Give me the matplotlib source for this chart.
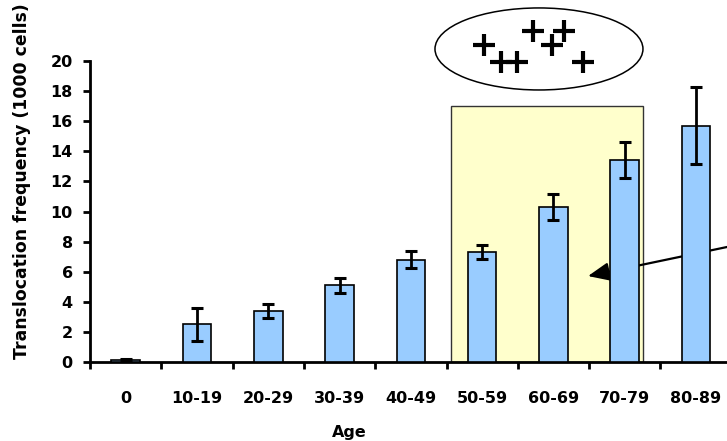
import matplotlib
matplotlib.use("Agg")
import matplotlib.pyplot as plt
from matplotlib.patches import Rectangle, Ellipse

# Translocation frequency per 1000 cells by age group
age_groups = ["0", "10-19", "20-29", "30-39", "40-49", "50-59", "60-69", "70-79", "80-89"]
frequency = [0.1, 2.5, 3.4, 5.1, 6.8, 7.3, 10.3, 13.4, 15.7]
errors = [0.1, 1.1, 0.45, 0.5, 0.55, 0.45, 0.85, 1.2, 2.55]
y_ticks = [0, 2, 4, 6, 8, 10, 12, 14, 16, 18, 20]

# highlighted age window and its ceiling
highlight_x = (4.563, 7.256)
highlight_top = 17.0

# "+" symbols in the oval above the highlighted window
plus_x = [5.030, 5.264, 5.485, 5.717, 5.975, 6.148, 6.419]
plus_y = [21.06, 19.95, 19.95, 22.01, 21.06, 22.01, 19.95]

plt.rcParams["font.family"] = ["DejaVu Sans"]
plt.rcParams["font.weight"] = "bold"

fig = plt.figure(figsize=(7.27, 4.41), dpi=100)
W, H = 727, 441
ax = fig.add_axes([90 / W, (H - 362) / H, (W - 90) / W, (362 - 61) / H])

x = list(range(len(age_groups)))

ax.add_patch(Rectangle((highlight_x[0], 0), highlight_x[1] - highlight_x[0], highlight_top,
                       facecolor="#FFFFCC", edgecolor="#333333", linewidth=1.0, zorder=1))

ax.annotate("", xy=(6.485, 5.71), xytext=(9.2, 8.4),
            arrowprops=dict(arrowstyle="-|>,head_length=0.65,head_width=0.28",
                            mutation_scale=20, color="black", lw=1.6,
                            shrinkA=0, shrinkB=0),
            zorder=2, annotation_clip=False)

ax.bar(x, frequency, width=0.4, color="#99CCFF", edgecolor="black", linewidth=1.2, zorder=3)
ax.errorbar(x, frequency, yerr=errors, fmt="none", ecolor="black", elinewidth=2.0,
            capsize=4.2, capthick=2.2, zorder=4)

ax.add_patch(Ellipse((5.797, 20.8), 2.917, 5.45, facecolor="none", edgecolor="black",
                     linewidth=1.1, clip_on=False, zorder=5))
ax.plot(plus_x, plus_y, linestyle="none", marker="+", markersize=16, markeredgewidth=3.0,
        color="black", clip_on=False, zorder=6)

for s in ["top", "right"]:
    ax.spines[s].set_visible(False)
for s in ["left", "bottom"]:
    ax.spines[s].set_linewidth(2.0)

ax.set_yticks(y_ticks)
ax.set_yticklabels([str(v) for v in y_ticks], fontsize=11.5, fontweight="bold")
ax.tick_params(axis="y", direction="out", length=5, width=2.0, pad=7.5)

ax.set_xticks([i - 0.5 for i in range(len(age_groups) + 1)])
ax.set_xticklabels([])
ax.set_xticks(x, minor=True)
ax.set_xticklabels(age_groups, minor=True, fontsize=11.5, fontweight="bold")
ax.tick_params(axis="x", which="major", direction="out", length=5, width=2.0)
ax.tick_params(axis="x", which="minor", length=0, pad=21)

ax.set_xlim(-0.5, -0.5 + (W - 90) / 71.3)
ax.set_ylim(0, 20)

ax.set_ylabel("Translocation frequency (1000 cells)", fontsize=12.4, fontweight="bold")
ax.yaxis.set_label_coords(-0.107, 0.6)
ax.yaxis.label.set_va("center")
ax.set_xlabel("Age", fontsize=11.5, fontweight="bold")
ax.xaxis.set_label_coords(0.4066, -0.2326)
ax.xaxis.label.set_va("center")

fig.savefig("out.png", dpi=100)
